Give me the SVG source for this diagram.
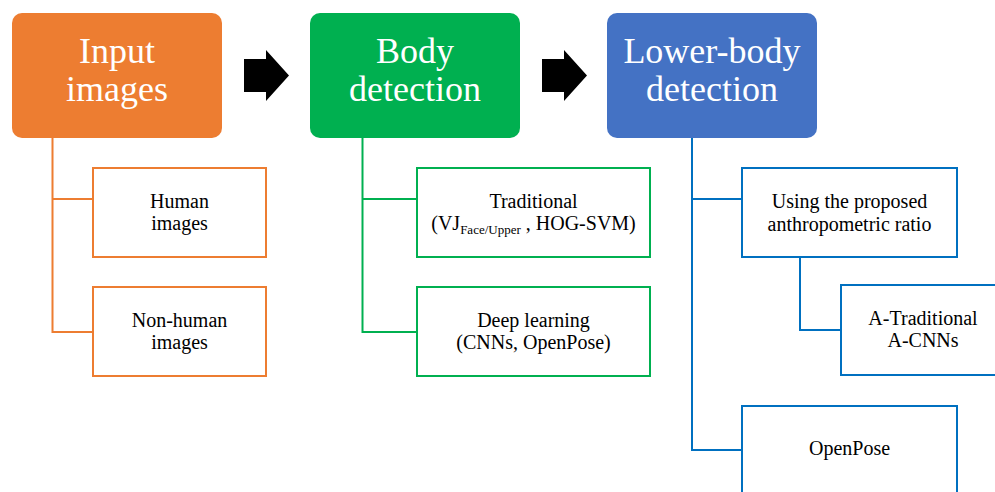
<svg xmlns="http://www.w3.org/2000/svg" width="995" height="492" viewBox="0 0 995 492">
<style>
.t{fill:#000;font-size:20px;text-anchor:middle}
.h{fill:#fff;font-size:36px;text-anchor:middle}
.o{fill:#fff;stroke:#ED7D31;stroke-width:2}
.g{fill:#fff;stroke:#00B050;stroke-width:2}
.b{fill:#fff;stroke:#0070C0;stroke-width:2}
.lo{fill:none;stroke:#ED7D31;stroke-width:2}
.lg{fill:none;stroke:#00B050;stroke-width:2}
.lb{fill:none;stroke:#0070C0;stroke-width:2}
</style>
<rect width="995" height="492" fill="#fff"/>
<g id="connectors">
<path class="lo" d="M52.5 138V332H93M52.5 199H93"/>
<path class="lg" d="M362.5 138V332H417M362.5 199H417"/>
<path class="lb" d="M692 138V450H742M692 199H742"/>
<path class="lb" d="M800 257V330H841"/>
<polygon points="244,59 266,59 266,50 289,75.5 266,101 266,92 244,92" fill="#000"/>
<polygon points="542,59 564,59 564,50 587,75.5 564,101 564,92 542,92" fill="#000"/>
</g>
<g font-family="Liberation Serif, DejaVu Serif, serif">
<g id="input">
<rect x="12" y="13" width="210" height="125" rx="10" fill="#ED7D31"/>
<text class="h" x="117" y="63">Input</text>
<text class="h" x="117" y="101">images</text>
</g>
<g id="body">
<rect x="310" y="13" width="210" height="125" rx="10" fill="#00B050"/>
<text class="h" x="415" y="63">Body</text>
<text class="h" x="415" y="101">detection</text>
</g>
<g id="lower">
<rect x="607" y="13" width="210" height="125" rx="10" fill="#4472C4"/>
<text class="h" x="712" y="63">Lower-body</text>
<text class="h" x="712" y="101">detection</text>
</g>
<g id="human">
<rect class="o" x="93" y="168" width="173" height="89"/>
<text class="t" x="179.5" y="208">Human</text>
<text class="t" x="179.5" y="230">images</text>
</g>
<g id="nonhuman">
<rect class="o" x="93" y="287" width="173" height="89"/>
<text class="t" x="179.5" y="327">Non-human</text>
<text class="t" x="179.5" y="349">images</text>
</g>
<g id="traditional">
<rect class="g" x="417" y="168" width="233" height="89"/>
<text class="t" x="533.5" y="208">Traditional</text>
<text class="t" x="533.5" y="230">(VJ<tspan font-size="13" dy="4">Face/Upper</tspan><tspan dy="-4"> , HOG-SVM)</tspan></text>
</g>
<g id="deep">
<rect class="g" x="417" y="287" width="233" height="89"/>
<text class="t" x="533.5" y="327">Deep learning</text>
<text class="t" x="533.5" y="349">(CNNs, OpenPose)</text>
</g>
<g id="ratio">
<rect class="b" x="742" y="168" width="215" height="89"/>
<text class="t" x="849.5" y="208">Using the proposed</text>
<text class="t" x="849.5" y="231">anthropometric ratio</text>
</g>
<g id="atrad">
<rect class="b" x="841" y="285" width="170" height="90"/>
<text class="t" x="923" y="325">A-Traditional</text>
<text class="t" x="923" y="347">A-CNNs</text>
</g>
<g id="openpose">
<rect class="b" x="742" y="406" width="215" height="100"/>
<text class="t" x="849.5" y="455">OpenPose</text>
</g>
</g>
</svg>
